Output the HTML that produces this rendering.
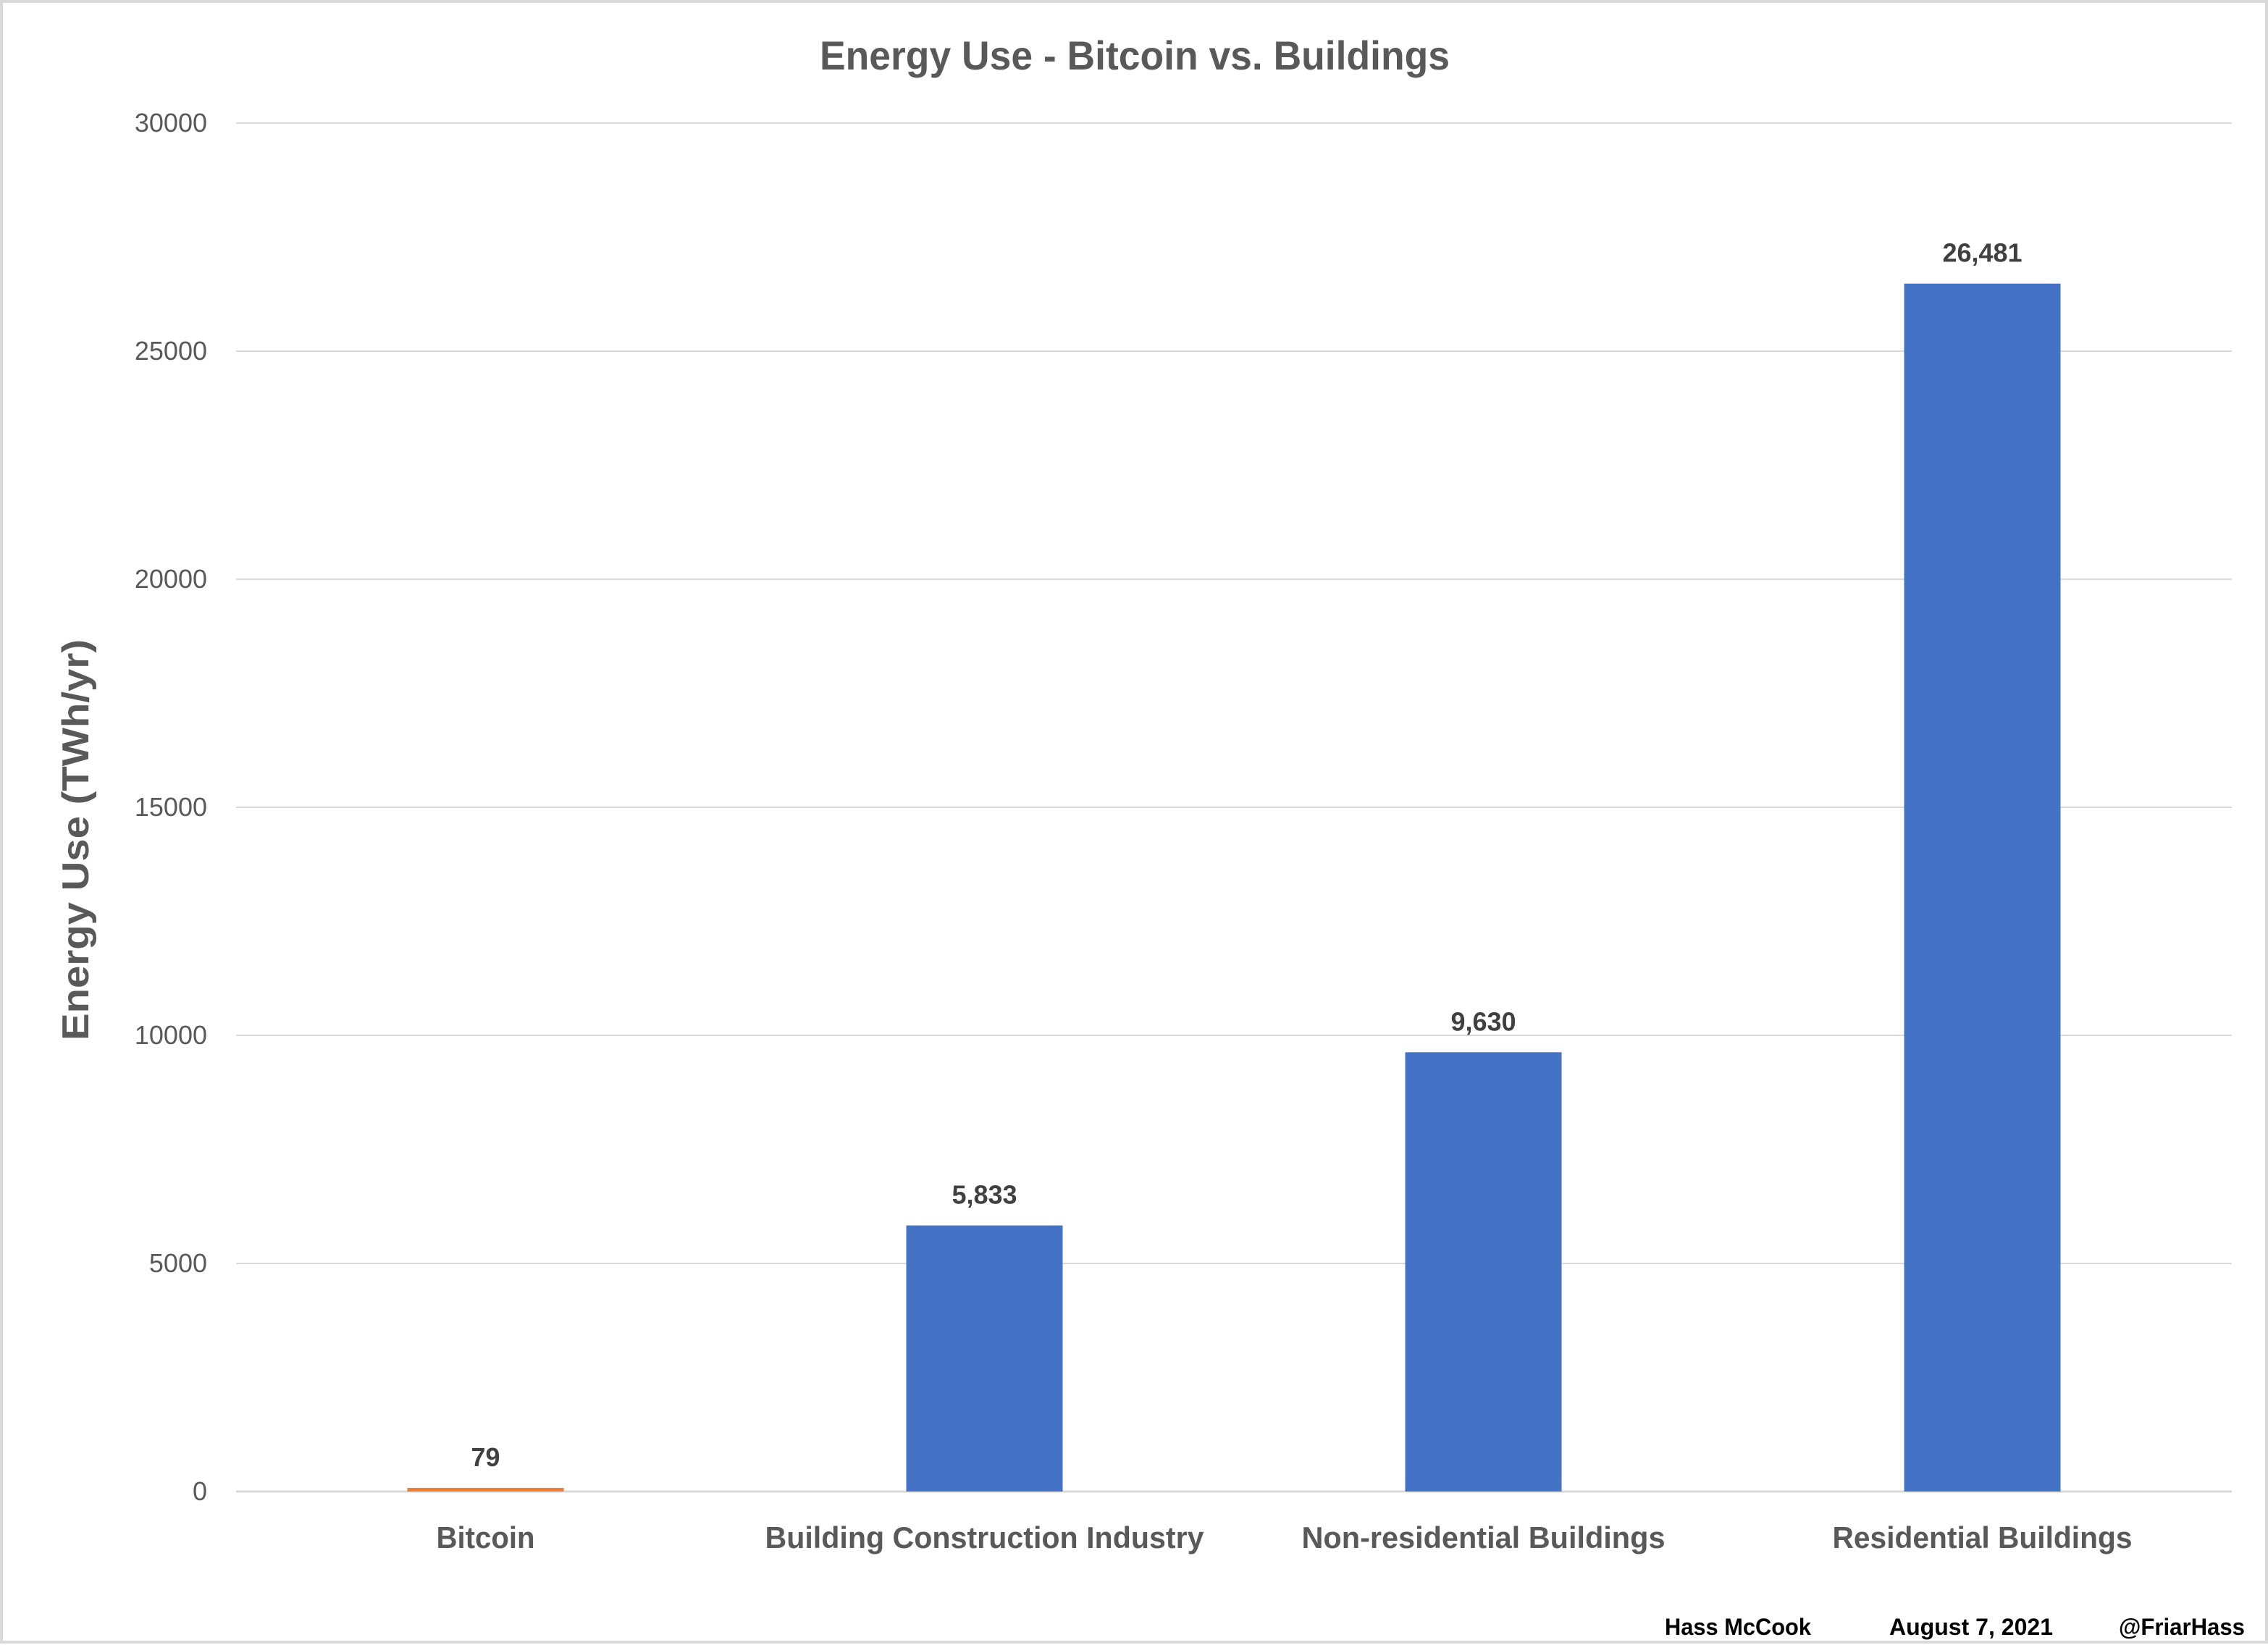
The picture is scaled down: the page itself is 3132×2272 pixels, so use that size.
<!DOCTYPE html>
<html><head><meta charset="utf-8"><style>
html,body{margin:0;padding:0;background:#fff}
svg{display:block}
text{font-family:"Liberation Sans",sans-serif}
</style></head><body>
<svg id="chart" width="3132" height="2272" viewBox="0 0 3132 2272" xmlns="http://www.w3.org/2000/svg">
<rect x="2" y="2" width="3128" height="2266" fill="#fff" stroke="#d9d9d9" stroke-width="4"/>
<text x="1567" y="96" text-anchor="middle" font-size="56" font-weight="bold" fill="#595959" textLength="870" lengthAdjust="spacingAndGlyphs">Energy Use - Bitcoin vs. Buildings</text>
<text transform="translate(122,1160) rotate(-90)" text-anchor="middle" font-size="52" font-weight="bold" fill="#595959" textLength="554" lengthAdjust="spacingAndGlyphs">Energy Use (TWh/yr)</text>
<g id="grid"></g><g id="bars"></g><g id="labels"></g>
<text x="2400" y="2258" text-anchor="middle" font-size="32" font-weight="bold" fill="#000" textLength="202" lengthAdjust="spacingAndGlyphs">Hass McCook</text>
<text x="2722" y="2258" text-anchor="middle" font-size="32" font-weight="bold" fill="#000" textLength="226" lengthAdjust="spacingAndGlyphs">August 7, 2021</text>
<text x="3013" y="2258" text-anchor="middle" font-size="32" font-weight="bold" fill="#000" textLength="174" lengthAdjust="spacingAndGlyphs">@FriarHass</text>
</svg>
<script>
const categories = ["Bitcoin","Building Construction Industry","Non-residential Buildings","Residential Buildings"];
const values = [79,5833,9630,26481];
const valueLabels = ["79","5,833","9,630","26,481"];
const yTicks = [0,5000,10000,15000,20000,25000,30000];
const barColors = ["#ed7d31","#4472c4","#4472c4","#4472c4"];
const catWidths = [136,606,502,414];

const NS="http://www.w3.org/2000/svg";
const L=326,R=3082,Y0=2060,Y1=170,YMAX=30000;
const y=v=>Y0-(v/YMAX)*(Y0-Y1);
const band=(R-L)/categories.length;
const x=i=>L+band*(i+0.5);
const mk=(t,a,p)=>{const e=document.createElementNS(NS,t);for(const k in a)e.setAttribute(k,a[k]);p.appendChild(e);return e;};
const grid=document.getElementById('grid'),bars=document.getElementById('bars'),labels=document.getElementById('labels');
yTicks.forEach(t=>{
  const ln=mk('line',{x1:L,x2:R,y1:y(t),y2:y(t),stroke:'#d9d9d9','stroke-width':t===0?3:2},grid);
  
  
  const tx=mk('text',{x:286,y:y(t)+12,'text-anchor':'end','font-size':36,fill:'#595959'},grid);
  tx.textContent=t;
  
  
});
const bw=216;
categories.forEach((c,i)=>{
  const top=y(values[i]);
  const b=mk('rect',{x:x(i)-bw/2,y:top,width:bw,height:Math.max(Y0-top,4),fill:barColors[i]},bars);
  if(Y0-top<4)b.setAttribute('y',Y0-4);
  
  
  const v=mk('text',{x:x(i),y:Math.min(top,Y0-4)-30,'text-anchor':'middle','font-size':36,'font-weight':'bold',fill:'#404040'},labels);
  v.textContent=valueLabels[i];
  
  
  const cl=mk('text',{x:x(i),y:2138,'text-anchor':'middle','font-size':42,'font-weight':'bold',fill:'#595959',textLength:catWidths[i],lengthAdjust:'spacingAndGlyphs'},labels);
  cl.textContent=c;
  
  
});
</script>
</body></html>
